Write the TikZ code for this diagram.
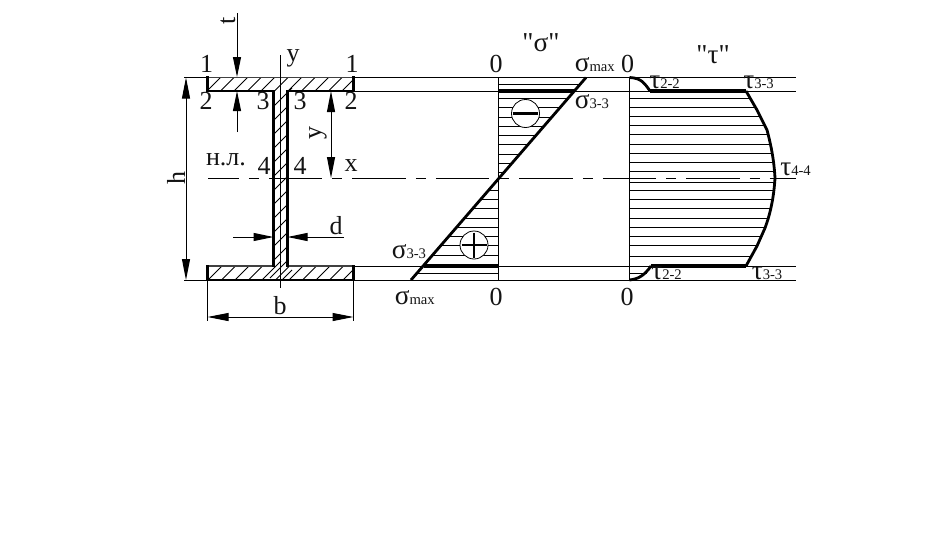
\documentclass[tikz,border=0pt]{standalone}
\usepackage{fontspec}
\setmainfont{Liberation Serif}
\newfontfamily\plainquote{Liberation Serif}
\usetikzlibrary{arrows.meta}
\tikzset{
 thinl/.style={line width=0.75pt,black},
 thickl/.style={line width=2.6pt,black,line join=miter},
 medl/.style={line width=2.1pt,black},
 hatchl/.style={line width=0.6pt,black},
 dimarr/.style={line width=0.75pt,{Stealth[length=21*0.75pt,width=8*0.75pt,inset=0pt]}-{Stealth[length=21*0.75pt,width=8*0.75pt,inset=0pt]}},
 endarr/.style={line width=0.75pt,-{Stealth[length=20*0.75pt,width=8*0.75pt,inset=0pt]}},
 lab/.style={inner sep=0pt,font=\fontsize{19.5pt}{20pt}\selectfont,text=black!92},
 sublab/.style={inner sep=0pt,anchor=west,font=\fontsize{20.5pt}{21pt}\selectfont,text=black!92},
}
\newcommand{\sbs}[1]{{\fontsize{11pt}{11pt}\selectfont #1}}
\begin{document}
\begin{tikzpicture}[x=0.75pt,y=-0.75pt]
\useasboundingbox (0,0) rectangle (927,539);
% extension lines
\coordinate (hT) at (184,77.5); \coordinate (hB) at (184,280);
\coordinate (eT) at (796,77.5); \coordinate (eB) at (796,280);
\coordinate (fT) at (353.5,91); \coordinate (fTe) at (796,91);
\coordinate (fB) at (353.5,266); \coordinate (fBe) at (796,266);
\draw[thinl] (hT) -- (eT);
\draw[thinl] (fT) -- (fTe);
\draw[thinl] (fB) -- (fBe);
\draw[thinl] (hB) -- (eB);
% neutral axis
\coordinate (naL) at (208,178); \coordinate (naR) at (796,178);
\draw[thinl,dash pattern=on 40.1pt off 7.5pt on 7.5pt off 7.5pt,dash phase=16.9pt] (naL) -- (naR);
% section hatching
\begin{scope}
\clip (207.5,77.5) -- (353.5,77.5) -- (353.5,91) -- (287.5,91) -- (287.5,266) -- (353.5,266) -- (353.5,280) -- (207.5,280) -- (207.5,266) -- (273.5,266) -- (273.5,91) -- (207.5,91) -- cycle;
\foreach \k in {0,...,30}{
 \draw[hatchl] (207+\k*13.5,91) -- ++(20,-20);
 \draw[hatchl] (207+\k*13.5,281) -- ++(20,-20);
}
\foreach \k in {0,...,13}{
 \draw[hatchl] (270,110+\k*14) -- ++(22,-22);
}
\end{scope}
\draw[line width=1.4pt,black!75] (207.5,77.5) -- (353.5,77.5);
\draw[line width=1.4pt,black!75] (207.5,266) -- (273.5,266);
\draw[line width=1.4pt,black!75] (287.5,266) -- (353.5,266);
\draw[medl,line cap=rect] (207.5,77.5) -- (207.5,91) -- (273.5,91) -- (273.5,266);
\draw[medl,line cap=rect] (353.5,77.5) -- (353.5,91) -- (287.5,91) -- (287.5,266);
\draw[medl,line cap=rect] (207.5,266) -- (207.5,280) -- (353.5,280) -- (353.5,266);
% y axis
\coordinate (yT) at (280,55); \coordinate (yB) at (280,288);
\draw[hatchl] (yT) -- (yB);
% t dimension
\coordinate (tT) at (237,13); \coordinate (tA) at (237,77); \coordinate (tB) at (237,132); \coordinate (tC) at (237,91);
\draw[endarr] (tT) -- (tA);
\draw[endarr] (tB) -- (tC);
% y dimension
\coordinate (ydT) at (331,91); \coordinate (ydB) at (331,178);
\draw[dimarr] (ydT) -- (ydB);
% h
\coordinate (hA) at (186,77.5); \coordinate (hZ) at (186,280);
\draw[dimarr] (hA) -- (hZ);
% b
\coordinate (bA) at (207.5,317); \coordinate (bZ) at (353.5,317);
\coordinate (bL0) at (207.5,280); \coordinate (bR0) at (353.5,280);
\draw[dimarr] (bA) -- (bZ);
\draw[thinl] (bL0) -- (207.5,321);
\draw[thinl] (bR0) -- (353.5,321);
% d
\coordinate (dL) at (233,237); \coordinate (dLe) at (273.5,237);
\coordinate (dR) at (344,237); \coordinate (dRe) at (287.5,237);
\draw[endarr] (dL) -- (dLe);
\draw[endarr] (dR) -- (dRe);
% sigma hatching
\foreach \yy in {84,98,107,117,126,135,144,154,163,172,190,199,208,218,227,236,245,255,273}{
 \pgfmathsetmacro{\xx}{586-(\yy-77)*0.862}
 \draw[thinl] (498.5,\yy) -- (\xx,\yy);
}
\coordinate (s0T) at (498.5,77.5); \coordinate (s0B) at (498.5,280);
\draw[thinl] (s0T) -- (s0B);
\coordinate (sA) at (586,77.5); \coordinate (sZ) at (411,280);
\draw[line width=2.1pt] (sA) -- (sZ);
\draw[thickl] (498.5,91) -- (574,91);
\draw[thickl] (424,266) -- (498.5,266);
\node[circle,draw,line width=0.6pt,fill=white,minimum size=28*0.75pt,inner sep=0pt] (minus) at (525.5,113.5) {};
\draw[thickl] (minus.center) ++(-12.5,0) -- ++(25,0);
\node[circle,draw,line width=0.6pt,fill=white,minimum size=28*0.75pt,inner sep=0pt] (plus) at (474,245) {};
\draw[thickl,line width=2pt] (plus.center) ++(-12.5,0) -- ++(25,0);
\draw[thickl,line width=2pt] (plus.center) ++(0,-12.5) -- ++(0,25);
% tau hatching
\foreach \yy/\xx in {98/750,107/755,116/760,125/764.5,134/768,144/771,153/772.5,162/774,171/775,182/775,190/774,199/772.5,208/770.5,218/768,227/765,236/761,245/757,256/751,273/647}{
 \draw[thinl] (629.5,\yy) -- (\xx,\yy);
}
\coordinate (t0T) at (629.5,77.5); \coordinate (t0B) at (629.5,280);
\draw[thinl] (t0T) -- (t0B);
\draw[medl,line join=round] (629.5,77.5) .. controls (642,78) and (645,84) .. (650,91);
\draw[thickl] (650,91) -- (746,91);
\draw[medl,line join=round] (746,91) -- (757,110) -- (767,130) .. controls (771,145) and (774,160) .. (775,178)
  .. controls (774,195) and (771,212) .. (765,228) -- (757,246) -- (746,266);
\draw[thickl] (746,266) -- (651,266);
\draw[medl] (651,266) .. controls (644,276) and (638,279) .. (629.5,280);
% labels
\node[lab] (n1a) at (206.5,64) {1};
\node[lab] (n1b) at (352,64) {1};
\node[lab] (n2a) at (206,101) {2};
\node[lab] (n2b) at (351,101) {2};
\node[lab] (n3a) at (263,101) {3};
\node[lab] (n3b) at (300,101) {3};
\node[lab] (n4a) at (264,166) {4};
\node[lab] (n4b) at (300,166) {4};
\node[lab] (ly) at (293,58) {y};
\node[lab,rotate=90] (lt) at (228,21) {t};
\node[lab,rotate=90] (ly2) at (318,133) {y};
\node[lab,rotate=90] (lh) at (176,178) {h};
\node[lab] (lnl) at (226,160) {н.л.};
\node[lab] (lx) at (351,166) {x};
\node[lab] (ld) at (336,226) {d};
\node[lab] (lb) at (280,306) {b};
\node[lab] (z1) at (496,64) {0};
\node[lab] (z2) at (627.5,64) {0};
\node[lab] (z3) at (496,297) {0};
\node[lab] (z4) at (627,297) {0};
\node[lab,font=\fontsize{20.5pt}{21pt}\plainquote] (hs) at (541,43) {"σ"};
\node[lab,font=\fontsize{20.5pt}{21pt}\plainquote] (ht) at (713,55) {"τ"};
\node[sublab] (smax) at (574.5,65) {σ\sbs{max}};
\node[sublab] (s33a) at (574.5,102) {σ\sbs{3-3}};
\node[sublab] (s33b) at (391.5,252) {σ\sbs{3-3}};
\node[sublab] (smaxb) at (394.5,298) {σ\sbs{max}};
\node[sublab] (t22a) at (649,82) {τ\sbs{2-2}};
\node[sublab] (t33a) at (743,82) {τ\sbs{3-3}};
\node[sublab] (t44) at (780,169) {τ\sbs{4-4}};
\node[sublab] (t22b) at (651,273) {τ\sbs{2-2}};
\node[sublab] (t33b) at (751.5,273) {τ\sbs{3-3}};
\end{tikzpicture}
\end{document}
